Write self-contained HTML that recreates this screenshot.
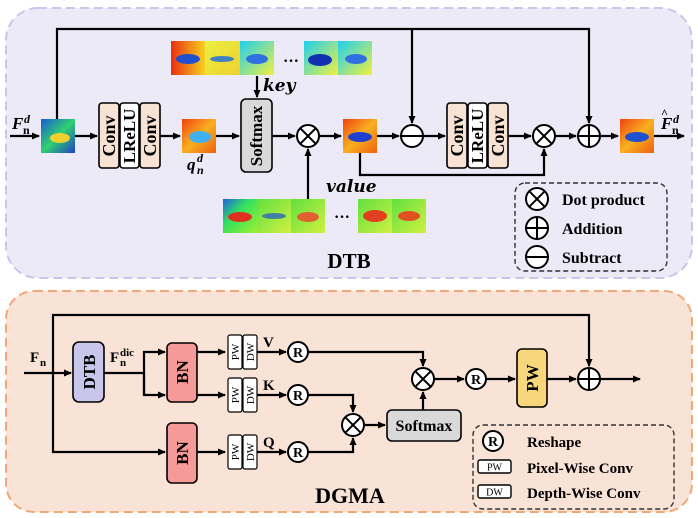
<!DOCTYPE html>
<html><head><meta charset="utf-8"><style>
html,body{margin:0;padding:0;background:#fff;}
svg{display:block;font-family:"Liberation Serif",serif;font-weight:bold;}
</style></head><body>
<svg width="698" height="518" viewBox="0 0 698 518" xmlns="http://www.w3.org/2000/svg">
<defs>
<marker id="a" markerWidth="8" markerHeight="8" refX="7" refY="4" orient="auto" markerUnits="userSpaceOnUse"><path d="M0,0.5 L8,4 L0,7.5 Z" fill="#000"/></marker>
<linearGradient id="g1" x1="0" y1="0" x2="1" y2="1"><stop offset="0" stop-color="#1a5ad8"/><stop offset="0.5" stop-color="#2fd070"/><stop offset="1" stop-color="#2040c8"/></linearGradient>
<linearGradient id="g2" x1="0" y1="0" x2="1" y2="1"><stop offset="0" stop-color="#f04010"/><stop offset="0.5" stop-color="#f8b020"/><stop offset="1" stop-color="#f06010"/></linearGradient>
<linearGradient id="g3" x1="0" y1="0" x2="1" y2="0"><stop offset="0" stop-color="#e83010"/><stop offset="1" stop-color="#f8d020"/></linearGradient>
<linearGradient id="g4" x1="0" y1="0" x2="1" y2="1"><stop offset="0" stop-color="#e8f040"/><stop offset="1" stop-color="#f0d030"/></linearGradient>
<linearGradient id="g5" x1="0" y1="0" x2="1" y2="1"><stop offset="0" stop-color="#20d0f0"/><stop offset="1" stop-color="#f0f040"/></linearGradient>
<linearGradient id="g6" x1="0" y1="0" x2="1" y2="1"><stop offset="0" stop-color="#2060e0"/><stop offset="0.4" stop-color="#30e060"/><stop offset="1" stop-color="#a0f030"/></linearGradient>
<linearGradient id="g7" x1="0" y1="0" x2="1" y2="1"><stop offset="0" stop-color="#60e040"/><stop offset="1" stop-color="#d0f040"/></linearGradient>
</defs>

<rect x="6" y="8" width="686" height="270" rx="32" fill="#edeaf8" stroke="#c9c5ec" stroke-width="2" stroke-dasharray="9,5"/>
<rect x="6" y="291" width="686" height="221" rx="28" fill="#f9e3d6" stroke="#f0a878" stroke-width="2" stroke-dasharray="9,5"/>

<g stroke="#000" stroke-width="2.2" fill="none">
<line x1="10" y1="136" x2="39" y2="136" marker-end="url(#a)"/>
<polyline points="57,119 57,29 589,29 589,123" marker-end="url(#a)"/>
<line x1="412" y1="29" x2="412" y2="123" marker-end="url(#a)"/>
<line x1="75" y1="136" x2="97" y2="136" marker-end="url(#a)"/>
<line x1="160" y1="136" x2="180" y2="136" marker-end="url(#a)"/>
<line x1="216" y1="136" x2="239" y2="136" marker-end="url(#a)"/>
<line x1="272" y1="136" x2="295" y2="136" marker-end="url(#a)"/>
<line x1="257" y1="76" x2="257" y2="97" marker-end="url(#a)"/>
<line x1="308" y1="199" x2="308" y2="149" marker-end="url(#a)"/>
<line x1="319" y1="136" x2="341" y2="136" marker-end="url(#a)"/>
<line x1="377" y1="136" x2="399" y2="136" marker-end="url(#a)"/>
<line x1="423" y1="136" x2="445" y2="136" marker-end="url(#a)"/>
<line x1="508" y1="136" x2="531" y2="136" marker-end="url(#a)"/>
<polyline points="360,153 360,175 544,175 544,149" marker-end="url(#a)"/>
<line x1="555" y1="136" x2="576" y2="136" marker-end="url(#a)"/>
<line x1="600" y1="136" x2="618" y2="136" marker-end="url(#a)"/>
<line x1="654" y1="136" x2="684" y2="136" marker-end="url(#a)"/>
</g>

<g>
<rect x="41" y="119" width="34" height="34" fill="url(#g1)"/><ellipse cx="60" cy="138" rx="10" ry="5" fill="#f0d030"/>
<rect x="182" y="119" width="34" height="34" fill="url(#g2)"/><ellipse cx="200" cy="137" rx="11" ry="6" fill="#40b0f0"/>
<rect x="343" y="119" width="34" height="34" fill="url(#g2)"/><ellipse cx="360" cy="137" rx="12" ry="5" fill="#2040d0"/>
<rect x="620" y="119" width="34" height="34" fill="url(#g2)"/><ellipse cx="637" cy="137" rx="12" ry="5" fill="#2050d0"/>
<rect x="171" y="41" width="34" height="34" fill="url(#g3)"/><ellipse cx="188" cy="59" rx="12" ry="5" fill="#2050d0"/>
<rect x="205" y="41" width="35" height="34" fill="url(#g4)"/><ellipse cx="222" cy="59" rx="12" ry="3" fill="#4080c0"/>
<rect x="240" y="41" width="34" height="34" fill="url(#g5)"/><ellipse cx="257" cy="59" rx="11" ry="5" fill="#3070e0"/>
<text x="283" y="66" font-size="16" font-family="Liberation Serif">···</text>
<rect x="304" y="41" width="34" height="34" fill="url(#g5)"/><ellipse cx="320" cy="60" rx="12" ry="6" fill="#1030b0"/>
<rect x="338" y="41" width="34" height="34" fill="url(#g5)"/><ellipse cx="356" cy="59" rx="11" ry="5" fill="#3070e0"/>
<rect x="223" y="199" width="34" height="34" fill="url(#g6)"/><ellipse cx="240" cy="217" rx="12" ry="5" fill="#e03020"/>
<rect x="257" y="199" width="34" height="34" fill="url(#g7)"/><ellipse cx="274" cy="216" rx="12" ry="3" fill="#4080a0"/>
<rect x="291" y="199" width="34" height="34" fill="url(#g7)"/><ellipse cx="308" cy="217" rx="11" ry="5" fill="#e06030"/>
<text x="334" y="222" font-size="16" font-family="Liberation Serif">···</text>
<rect x="358" y="199" width="34" height="34" fill="url(#g7)"/><ellipse cx="375" cy="216" rx="12" ry="6" fill="#e04020"/>
<rect x="392" y="199" width="34" height="34" fill="url(#g7)"/><ellipse cx="409" cy="216" rx="11" ry="5" fill="#e05020"/>
</g>

<g stroke="#000" stroke-width="1.6">
<rect x="99" y="103" width="20" height="65" rx="3" fill="#f8e2d4"/>
<rect x="120" y="103" width="19" height="65" rx="3" fill="#fff"/>
<rect x="140" y="103" width="20" height="65" rx="3" fill="#f8e2d4"/>
<rect x="447" y="103" width="20" height="65" rx="3" fill="#f8e2d4"/>
<rect x="468" y="103" width="19" height="65" rx="3" fill="#fff"/>
<rect x="488" y="103" width="20" height="65" rx="3" fill="#f8e2d4"/>
<rect x="241" y="99" width="31" height="73" rx="5" fill="#d9d9d9"/>
</g>
<g font-size="18" text-anchor="middle">
<text transform="translate(115,136) rotate(-90)">Conv</text>
<text transform="translate(135,136) rotate(-90)" font-size="17">LReLU</text>
<text transform="translate(156,136) rotate(-90)">Conv</text>
<text transform="translate(463,136) rotate(-90)">Conv</text>
<text transform="translate(483,136) rotate(-90)" font-size="17">LReLU</text>
<text transform="translate(504,136) rotate(-90)">Conv</text>
<text transform="translate(262,136) rotate(-90)" font-size="17">Softmax</text>
</g>

<g stroke="#000" stroke-width="2" fill="#fff">
<circle cx="308" cy="136" r="11"/><path d="M300.2,128.2 L315.8,143.8 M315.8,128.2 L300.2,143.8"/>
<circle cx="412" cy="136" r="11"/><path d="M401,136 H423"/>
<circle cx="544" cy="136" r="11"/><path d="M536.2,128.2 L551.8,143.8 M551.8,128.2 L536.2,143.8"/>
<circle cx="589" cy="136" r="11"/><path d="M578,136 H600 M589,125 V147"/>
</g>

<g font-style="italic">
<text x="12" y="129" font-size="17">F</text><text x="24" y="123" font-size="12">d</text><text x="23" y="134" font-size="12" font-style="normal">n</text>
<text x="187" y="170" font-size="17">q</text><text x="197" y="162" font-size="12">d</text><text x="197" y="174" font-size="12">n</text>
<text x="263" y="91" font-size="17" font-family="DejaVu Serif">key</text>
<text x="326" y="192" font-size="17" font-family="DejaVu Serif">value</text>
<text x="661" y="129" font-size="17">F</text><text x="661" y="117" font-size="12" font-style="normal">^</text><text x="673" y="123" font-size="12">d</text><text x="672" y="134" font-size="12" font-style="normal">n</text>
</g>
<text x="349" y="268" font-size="21" text-anchor="middle">DTB</text>

<rect x="515" y="183" width="152" height="88" rx="10" fill="none" stroke="#333" stroke-width="1.4" stroke-dasharray="5,3"/>
<g stroke="#000" stroke-width="2" fill="#fff">
<circle cx="537" cy="199" r="11"/><path d="M529.2,191.2 L544.8,206.8 M544.8,191.2 L529.2,206.8"/>
<circle cx="537" cy="228" r="11"/><path d="M526,228 H548 M537,217 V239"/>
<circle cx="537" cy="257" r="11"/><path d="M526,257 H548"/>
</g>
<g font-size="16"><text x="562" y="205">Dot product</text><text x="562" y="234">Addition</text><text x="562" y="263">Subtract</text></g>

<g stroke="#000" stroke-width="2.2" fill="none">
<line x1="24" y1="373" x2="71" y2="373" marker-end="url(#a)"/>
<polyline points="53,373 53,315 589,315 589,366" marker-end="url(#a)"/>
<polyline points="53,373 53,452 165,452" marker-end="url(#a)"/>
<polyline points="104,373 144,373"/>
<polyline points="144,395 144,352 165,352" marker-end="url(#a)"/>
<polyline points="144,373 144,395 165,395" marker-end="url(#a)"/>
<line x1="197" y1="352" x2="225" y2="352" marker-end="url(#a)"/>
<line x1="197" y1="395" x2="225" y2="395" marker-end="url(#a)"/>
<line x1="197" y1="452" x2="225" y2="452" marker-end="url(#a)"/>
<line x1="257" y1="352" x2="286" y2="352" marker-end="url(#a)"/>
<line x1="257" y1="395" x2="286" y2="395" marker-end="url(#a)"/>
<line x1="257" y1="452" x2="286" y2="452" marker-end="url(#a)"/>
<polyline points="308,352 423,352 423,366" marker-end="url(#a)"/>
<polyline points="308,395 353,395 353,412" marker-end="url(#a)"/>
<polyline points="308,452 353,452 353,438" marker-end="url(#a)"/>
<line x1="364" y1="425" x2="385" y2="425" marker-end="url(#a)"/>
<line x1="423" y1="410" x2="423" y2="392" marker-end="url(#a)"/>
<line x1="434" y1="379" x2="464" y2="379" marker-end="url(#a)"/>
<line x1="486" y1="379" x2="515" y2="379" marker-end="url(#a)"/>
<line x1="547" y1="379" x2="576" y2="379" marker-end="url(#a)"/>
<line x1="600" y1="379" x2="640" y2="379" marker-end="url(#a)"/>
</g>
<g stroke="#000" stroke-width="1.6">
<rect x="73" y="342" width="31" height="60" rx="6" fill="#c9c6ec"/>
<rect x="167" y="343" width="30" height="59" rx="5" fill="#f59a98"/>
<rect x="167" y="423" width="30" height="60" rx="5" fill="#f59a98"/>
<rect x="517" y="349" width="30" height="58" rx="5" fill="#f8d77c"/>
<rect x="387" y="410" width="74" height="31" rx="5" fill="#d9d9d9"/>
<g fill="#fff" stroke-width="1.2">
<rect x="228" y="335" width="14" height="34" rx="2"/><rect x="243" y="335" width="14" height="34" rx="2"/>
<rect x="228" y="378" width="14" height="34" rx="2"/><rect x="243" y="378" width="14" height="34" rx="2"/>
<rect x="228" y="435" width="14" height="34" rx="2"/><rect x="243" y="435" width="14" height="34" rx="2"/>
</g>
</g>
<g text-anchor="middle">
<text transform="translate(95,372) rotate(-90)" font-size="17">DTB</text>
<text transform="translate(188,372) rotate(-90)" font-size="17">BN</text>
<text transform="translate(188,453) rotate(-90)" font-size="17">BN</text>
<text transform="translate(538,378) rotate(-90)" font-size="17">PW</text>
<text x="424" y="431" font-size="16">Softmax</text>
<g font-size="11" font-weight="normal">
<text transform="translate(239,352) rotate(-90)">PW</text><text transform="translate(254,352) rotate(-90)">DW</text>
<text transform="translate(239,395) rotate(-90)">PW</text><text transform="translate(254,395) rotate(-90)">DW</text>
<text transform="translate(239,452) rotate(-90)">PW</text><text transform="translate(254,452) rotate(-90)">DW</text>
</g>
</g>
<g stroke="#000" stroke-width="2" fill="#fff">
<circle cx="298" cy="352" r="10"/><circle cx="298" cy="395" r="10"/><circle cx="298" cy="452" r="10"/>
<circle cx="476" cy="379" r="10"/>
<circle cx="423" cy="379" r="11"/><path d="M415.2,371.2 L430.8,386.8 M430.8,371.2 L415.2,386.8"/>
<circle cx="353" cy="425" r="11"/><path d="M345.2,417.2 L360.8,432.8 M360.8,417.2 L345.2,432.8"/>
<circle cx="589" cy="379" r="11"/><path d="M578,379 H600 M589,368 V390"/>
</g>
<g font-size="14" text-anchor="middle">
<text x="298" y="357">R</text><text x="298" y="400">R</text><text x="298" y="457">R</text><text x="476" y="384">R</text>
</g>
<g font-size="15">
<text x="30" y="362">F</text><text x="40" y="366" font-size="11">n</text>
<text x="110" y="362">F</text><text x="120" y="366" font-size="11">n</text><text x="120" y="356" font-size="11">dic</text>
<text x="263" y="347">V</text><text x="263" y="390">K</text><text x="263" y="447">Q</text>
</g>
<text x="350" y="503" font-size="22" text-anchor="middle">DGMA</text>

<rect x="473" y="425" width="201" height="84" rx="10" fill="none" stroke="#333" stroke-width="1.4" stroke-dasharray="5,3"/>
<circle cx="493" cy="441" r="10" fill="#fff" stroke="#000" stroke-width="2"/>
<text x="493" y="446" font-size="14" text-anchor="middle">R</text>
<rect x="478" y="460" width="33" height="13" rx="2" fill="#fff" stroke="#000" stroke-width="1.4"/>
<text x="494.5" y="470.5" font-size="10" font-weight="normal" text-anchor="middle">PW</text>
<rect x="478" y="485" width="33" height="13" rx="2" fill="#fff" stroke="#000" stroke-width="1.4"/>
<text x="494.5" y="495.5" font-size="10" font-weight="normal" text-anchor="middle">DW</text>
<g font-size="15"><text x="527" y="447">Reshape</text><text x="527" y="473">Pixel-Wise Conv</text><text x="527" y="498">Depth-Wise Conv</text></g>
</svg>
</body></html>
